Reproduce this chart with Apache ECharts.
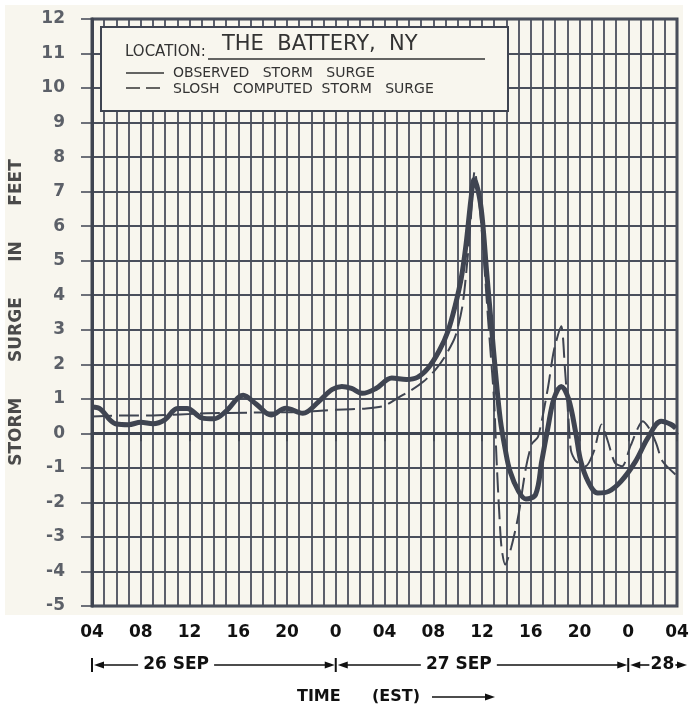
<!DOCTYPE html>
<html>
<head>
<meta charset="utf-8">
<script src="https://cdn.jsdelivr.net/npm/echarts@6/dist/echarts.min.js"></script>
<style>
  html, body { margin: 0; padding: 0; background: #ffffff; }
  #chart { width: 692px; height: 708px; }
</style>
</head>
<body>
<div id="chart"></div>
<script>
// hours counted from 26 SEP 04 EST
const xTickLabels = ['04', '08', '12', '16', '20', '0', '04', '08', '12', '16', '20', '0', '04'];

const obsHours = [0, 0.7, 1.5, 2, 3, 4, 5, 6, 7, 7.8, 9, 10, 11, 12.4, 13.5, 14.7, 15.9, 17.3, 18.6, 19.7,
  20.5, 21.3, 22.2, 23.3, 24.6, 25.8, 26.7, 27.6, 28.5, 29.2, 29.8, 30.3, 30.7, 31.1, 31.35, 31.7, 32.0, 32.4,
  32.8, 33.1, 33.5, 33.9, 34.3, 35.0, 35.6, 36.4, 36.9, 37.4, 37.9, 38.5, 39.1, 39.7, 40.1, 40.7, 41.5, 42.4,
  43.4, 44.6, 45.6, 46.7, 47.5, 47.9];
const obsValues = [0.76, 0.7, 0.38, 0.27, 0.25, 0.32, 0.28, 0.4, 0.72, 0.72, 0.45, 0.42, 0.64, 1.1, 0.84, 0.53, 0.73, 0.58, 0.92, 1.27,
  1.36, 1.3, 1.16, 1.3, 1.6, 1.56, 1.62, 1.9, 2.4, 2.95, 3.7, 4.5, 5.5, 6.8, 7.35, 7.0, 6.3, 4.6,
  3.0, 1.8, 0.4, -0.45, -1.1, -1.68, -1.9, -1.77, -0.81, 0.15, 1.0, 1.36, 1.0, 0.0, -0.8, -1.39, -1.73, -1.68,
  -1.39, -0.81, -0.14, 0.35, 0.26, 0.15];

const sloshHours = [0, 3, 5, 9.4, 13, 17, 20, 22.5, 24, 25.2, 26.2, 27.2, 28.2, 29, 29.8, 30.4, 30.8, 31.1, 31.4,
  31.8, 32.1, 32.5, 32.8, 33.0, 33.2, 33.4, 33.6, 33.9, 34.4, 35.0, 35.6, 36.1, 36.6, 37.4, 37.9, 38.5, 38.8,
  39.1, 39.3, 39.7, 40.5, 41.2, 41.8, 42.3, 42.9, 43.5, 44.2, 45.2, 45.8, 46.3, 46.8, 47.9];
const sloshValues = [0.49, 0.52, 0.52, 0.58, 0.6, 0.62, 0.68, 0.72, 0.8, 1.05, 1.25, 1.5, 1.85, 2.25, 2.8, 3.7, 5.0, 6.3, 7.6,
  6.6, 5.3, 3.3, 1.9, 0.9, -0.8, -2.2, -3.3, -3.8, -3.3, -2.35, -1.0, -0.3, -0.1, 1.3, 2.4, 3.1, 1.9,
  0.4, -0.5, -0.8, -0.95, -0.5, 0.26, -0.2, -0.85, -0.95, -0.35, 0.35, 0.1, -0.3, -0.8, -1.2];

const ink = '#3f4451';
const paper = '#f8f6ee';
const font = 'DejaVu Sans';

const chart = echarts.init(document.getElementById('chart'));

chart.setOption({
  backgroundColor: '#ffffff',
  animation: false,
  grid: {
    left: 90, right: 15, top: 19, bottom: 102,
    show: true, backgroundColor: paper, borderColor: ink, borderWidth: 3,
  },
  xAxis: [
    {
      type: 'value', min: 0, max: 48, interval: 4,
      axisLine: { show: true, lineStyle: { color: ink, width: 3 } },
      axisTick: { show: true, length: 8, lineStyle: { color: ink, width: 1.5 } },
      splitLine: { show: false },
      axisLabel: {
        margin: 18, color: '#111', fontFamily: font, fontWeight: 'bold', fontSize: 17,
        formatter: (v) => xTickLabels[Math.round(v / 4)],
      },
    },
    {
      type: 'value', min: 0, max: 48, interval: 1, position: 'bottom',
      axisLine: { show: false }, axisTick: { show: false }, axisLabel: { show: false },
      splitLine: { show: true, lineStyle: { color: '#4a4f5c', width: 1.8 } },
    },
  ],
  yAxis: {
    type: 'value', min: -5, max: 12, interval: 1,
    name: 'STORM      SURGE      IN      FEET',
    nameLocation: 'middle', nameGap: 67, nameRotate: 90,
    nameTextStyle: { color: '#4a4a4a', fontFamily: font, fontSize: 17, fontWeight: 'bold', padding: [0, 0, 0, 0] },
    axisLine: { show: true, lineStyle: { color: ink, width: 3 } },
    axisTick: { show: true, length: 11, lineStyle: { color: ink, width: 1.5 } },
    splitLine: { show: true, lineStyle: { color: '#4a4f5c', width: 1.8 } },
    axisLabel: { margin: 27, color: '#5c6068', fontFamily: font, fontWeight: 'bold', fontSize: 17 },
  },
  series: [
    {
      name: 'OBSERVED STORM SURGE',
      type: 'line', xAxisIndex: 0, smooth: 0.35, symbol: 'none', z: 5,
      data: obsHours.map((h, i) => [h, obsValues[i]]),
      lineStyle: { color: ink, width: 5 },
    },
    {
      name: 'SLOSH COMPUTED STORM SURGE',
      type: 'line', xAxisIndex: 0, smooth: 0.25, symbol: 'none', z: 4,
      data: sloshHours.map((h, i) => [h, sloshValues[i]]),
      lineStyle: { color: ink, width: 2, type: [20, 7] },
    },
  ],
});

// annotation layer: legend box, date row, time caption
const px = (h) => chart.convertToPixel({ xAxisIndex: 0 }, h);
const rowY = 665;
const textStyle = (size, extra) => Object.assign({ fill: '#111', font: 'bold ' + size + 'px "' + font + '"' }, extra || {});
const plain = (size) => size + 'px "' + font + '"';

function arrow(x1, x2, y) {
  // line from x1 to x2 with head at x2
  const dir = x2 > x1 ? 1 : -1;
  return [
    { type: 'line', shape: { x1: x1, y1: y, x2: x2 - dir * 6, y2: y }, style: { stroke: '#111', lineWidth: 1.6 } },
    { type: 'polygon', shape: { points: [[x2, y], [x2 - dir * 10, y - 3.5], [x2 - dir * 10, y + 3.5]] }, style: { fill: '#111' } },
  ];
}
function bar(x, y) {
  return { type: 'line', shape: { x1: x, y1: y - 7, x2: x, y2: y + 7 }, style: { stroke: '#111', lineWidth: 2 } };
}

const d0 = px(0), d1 = px(20), d2 = px(44), d3 = px(48);
const c26 = px(6.9), c27 = px(30.1), c28 = px(46.8);

const elements = [
  { type: 'rect', z: -10, silent: true, shape: { x: 5, y: 5, width: 678, height: 610 }, style: { fill: paper } },
  { type: 'rect', z: 100, shape: { x: 101, y: 27, width: 407, height: 84 }, style: { fill: paper, stroke: ink, lineWidth: 2 } },
  { type: 'text', z: 101, x: 125, y: 52, style: textStyle(14, { text: 'LOCATION:', fill: '#333', font: plain(15), verticalAlign: 'middle' }) },
  { type: 'text', z: 101, x: 222, y: 45, style: textStyle(21, { text: 'THE  BATTERY,  NY', fill: '#333', font: plain(21), verticalAlign: 'middle' }) },
  { type: 'line', z: 101, shape: { x1: 208, y1: 59, x2: 485, y2: 59 }, style: { stroke: '#333', lineWidth: 1.5 } },
  { type: 'line', z: 101, shape: { x1: 126, y1: 73, x2: 164, y2: 73 }, style: { stroke: '#333', lineWidth: 1.5 } },
  { type: 'line', z: 101, shape: { x1: 126, y1: 88, x2: 164, y2: 88 }, style: { stroke: '#333', lineWidth: 1.5, lineDash: [14, 6] } },
  { type: 'text', z: 101, x: 173, y: 73, style: textStyle(14, { text: 'OBSERVED   STORM   SURGE', fill: '#333', font: plain(14), verticalAlign: 'middle' }) },
  { type: 'text', z: 101, x: 173, y: 89, style: textStyle(14, { text: 'SLOSH   COMPUTED  STORM   SURGE', fill: '#333', font: plain(14), verticalAlign: 'middle' }) },

  bar(d0, rowY),
  ...arrow(c26 - 38, d0 + 2, rowY),
  { type: 'text', x: c26, y: rowY, style: textStyle(17, { text: '26 SEP', align: 'center', verticalAlign: 'middle' }) },
  ...arrow(c26 + 38, d1 - 1, rowY),
  bar(d1, rowY),
  ...arrow(c27 - 38, d1 + 2, rowY),
  { type: 'text', x: c27, y: rowY, style: textStyle(17, { text: '27 SEP', align: 'center', verticalAlign: 'middle' }) },
  ...arrow(c27 + 38, d2 - 1, rowY),
  bar(d2, rowY),
  ...arrow(c28 - 13, d2 + 2, rowY),
  { type: 'text', x: c28, y: rowY, style: textStyle(17, { text: '28', align: 'center', verticalAlign: 'middle' }) },
  ...arrow(c28 + 13, d3 + 10, rowY),

  { type: 'text', x: 297, y: 697, style: textStyle(16, { text: 'TIME', verticalAlign: 'middle' }) },
  { type: 'text', x: 372, y: 697, style: textStyle(16, { text: '(EST)', verticalAlign: 'middle' }) },
  ...arrow(432, 495, 697),
];

chart.setOption({ graphic: { elements: elements } });
</script>
</body>
</html>
